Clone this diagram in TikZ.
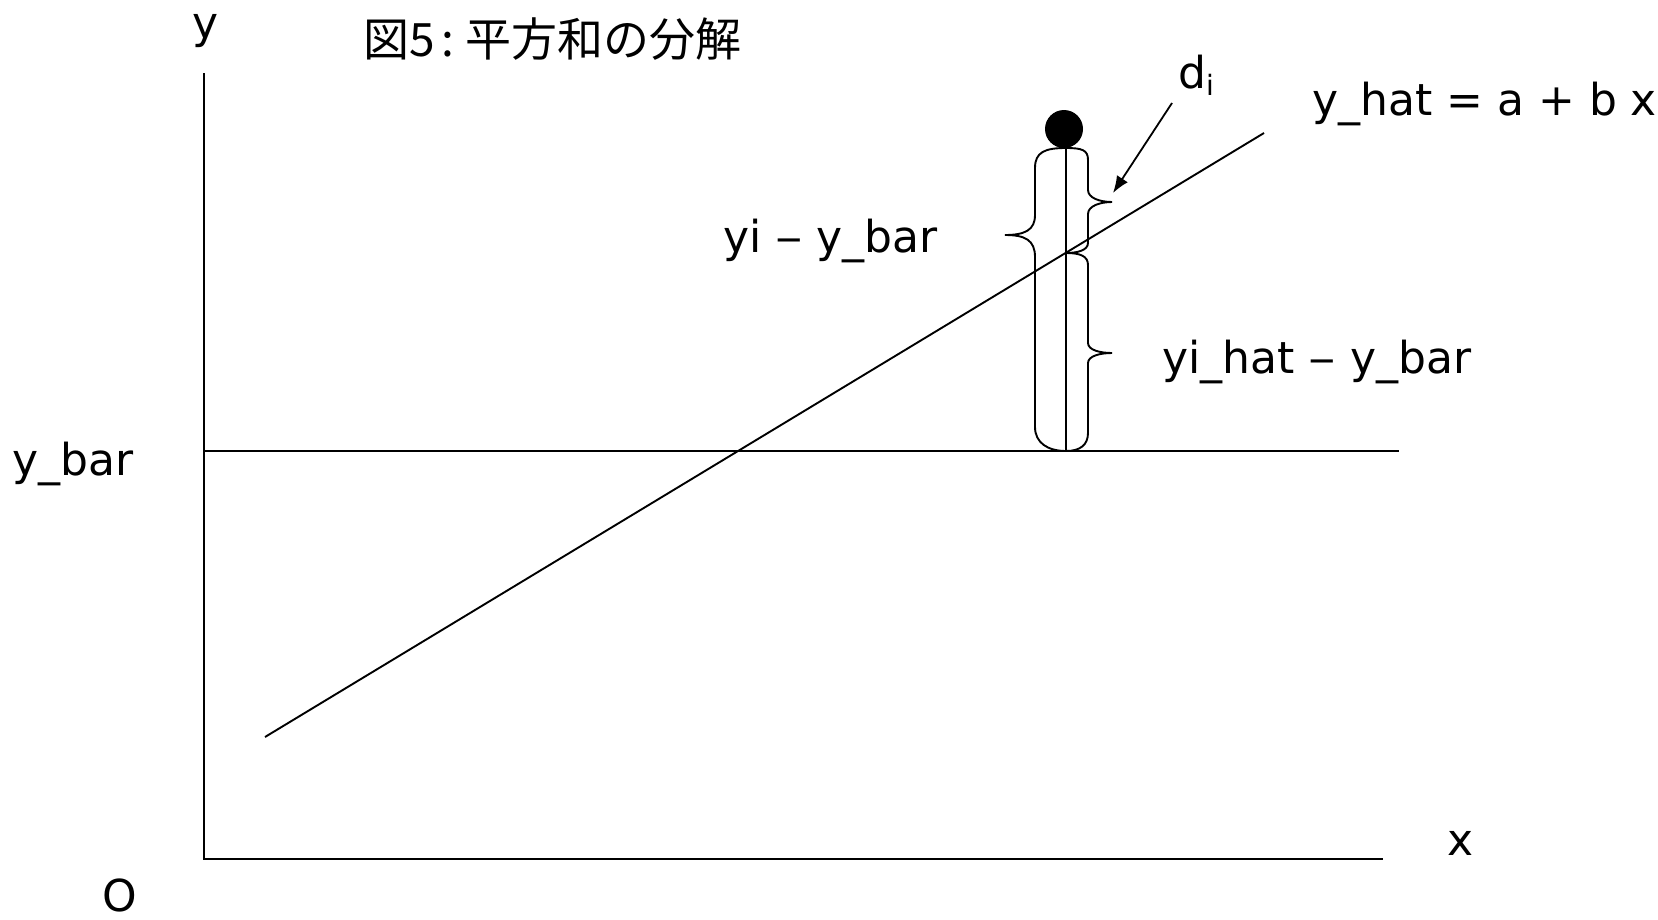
\documentclass[tikz,border=0pt]{standalone}
\usepackage{fontspec}
\setmainfont{DejaVu Sans}
\newfontfamily\jpfont{Noto Sans CJK JP}
\usetikzlibrary{arrows.meta}
\newcommand{\wdash}{\scalebox{1.25}[1]{–}}
\begin{document}
\begin{tikzpicture}[x=1pt,y=-1pt,
  lbl/.style={inner sep=0pt, anchor=base west, font=\fontsize{44}{50}\selectfont},
  ln/.style={line width=1.9pt},
  ]
\useasboundingbox (0,0) rectangle (1658,919);
% axes and lines
\coordinate (O) at (204,859);
\coordinate (ytop) at (204,73);
\coordinate (xend) at (1383,859);
\coordinate (ybL) at (204,451);
\coordinate (ybR) at (1399,451);
\coordinate (rA) at (265,737);
\coordinate (rB) at (1264,133);
\draw[ln] (ytop) -- (O) -- (xend);
\draw[ln] (ybL) -- (ybR);
\draw[ln] (rA) -- (rB);
% data point and vertical segment
\node[circle, fill=black, minimum size=38pt, inner sep=0pt] (pt) at (1064,129) {};
\coordinate (vtop) at (1066,148);
\coordinate (vmid) at (1066,253);
\coordinate (vbot) at (1066,451);
\draw[ln] (vtop) -- (vbot);
% left brace (yi - y_bar)
\draw[ln] (vtop) .. controls (1045,148) and (1035,152) .. (1035,168) -- (1035,215)
  .. controls (1035,230) and (1025,235) .. (1005,235)
  .. controls (1025,235) and (1035,240) .. (1035,257) -- (1035,427)
  .. controls (1035,443) and (1048,451) .. (vbot);
% upper right brace (d_i)
\draw[ln] (vtop) .. controls (1082,148) and (1088,150) .. (1088,160) -- (1088,190)
  .. controls (1088,198) and (1100,202) .. (1112,202)
  .. controls (1100,202) and (1088,206) .. (1088,214) -- (1088,243)
  .. controls (1088,250) and (1078,253) .. (vmid);
% lower right brace (yi_hat - y_bar)
\draw[ln] (vmid) .. controls (1080,253) and (1088,256) .. (1088,265) -- (1088,343)
  .. controls (1088,350) and (1100,353) .. (1112,353)
  .. controls (1100,353) and (1088,356) .. (1088,363) -- (1088,433)
  .. controls (1088,445) and (1080,451) .. (vbot);
% labels
\node[lbl] (ylab) at (192,38) {y};
\node[lbl, font=\jpfont\fontsize{46}{50}\selectfont] (title) at (363,56) {図5\hspace{7pt}:\hspace{11pt}平方和の分解};
\node[lbl] (di) at (1178,88) {d\raisebox{-7pt}{\fontsize{28}{30}\selectfont i}};
\node[lbl] (yhat) at (1312,115) {y\_hat = a + b x};
\node[lbl] (lab1) at (723,252) {yi \wdash{} y\_bar};
\node[lbl] (lab2) at (1162,373) {yi\_hat \wdash{} y\_bar};
\node[lbl] (ybar) at (12,475) {y\_bar};
\node[lbl] (xlab) at (1447,855) {x};
\node[lbl] (olab) at (102,911) {O};
% arrow to d_i brace
\coordinate (as) at (1172,103);
\coordinate (ae) at (1113,193);
\draw[line width=1.8pt, -{Latex[length=17pt,width=13pt]}] (as) -- (ae);
\end{tikzpicture}
\end{document}
